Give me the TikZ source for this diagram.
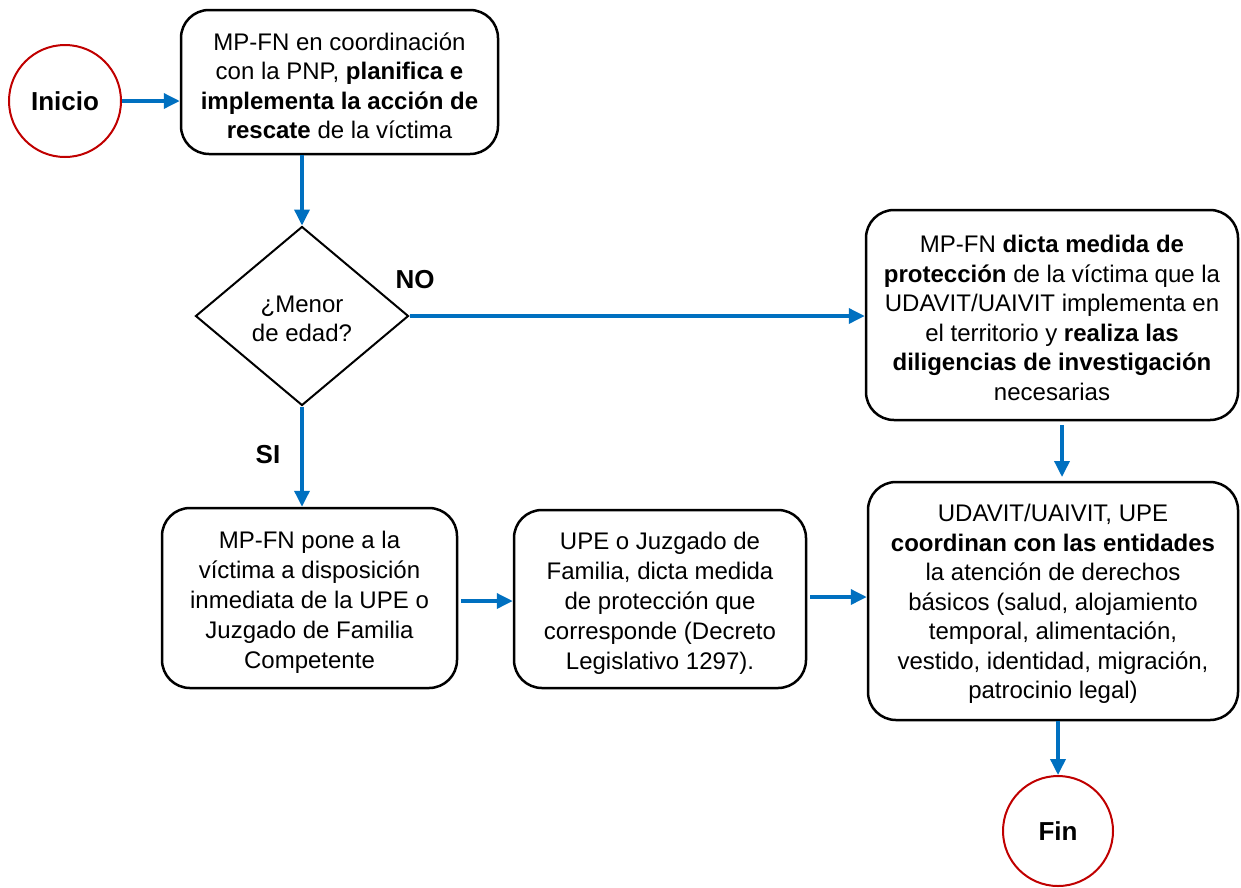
\documentclass[tikz,border=0pt]{standalone}
\usepackage{fontspec}
\setmainfont{Liberation Sans}
\usetikzlibrary{shapes.geometric,arrows.meta}
\definecolor{flowblue}{RGB}{0,112,192}
\definecolor{termred}{RGB}{192,0,0}
\tikzset{
  stepbox/.style={draw=black, line width=2.5pt, rounded corners=28pt, inner sep=0pt},
  boxtext/.style={align=center, inner sep=0pt, font=\fontsize{24}{29.5}\selectfont},
  termcirc/.style={draw=termred, line width=2pt, circle, inner sep=0pt, font=\bfseries\fontsize{26}{30}\selectfont},
  decision/.style={draw=black, line width=2pt, diamond, inner sep=0pt},
  flow/.style={draw=flowblue, line width=3.5pt, -{Triangle[length=16pt,width=15pt]}},
  lbl/.style={font=\bfseries\fontsize{26}{30}\selectfont, inner sep=0pt}
}
\begin{document}
\begin{tikzpicture}[x=1pt,y=-1pt]
\useasboundingbox (0,0) rectangle (1241,887);
\node[termcirc, minimum size=112pt] (ini) at (65,101) {Inicio};
% box 1
\node[stepbox, minimum width=317pt, minimum height=144pt] (b1) at (339.5,82) {};
\node[boxtext] (b1t) at ([yshift=-4pt]b1.center)
  {MP-FN en coordinación\\con la PNP, \textbf{planifica e}\\\textbf{implementa la acción de}\\\textbf{rescate} de la víctima};
% decision
\node[decision, minimum width=213pt, minimum height=179pt, aspect=1.19] (dia) at (302,316) {};
\node[boxtext] (diat) at ([yshift=-3pt]dia.center) {¿Menor\\de edad?};
% box 2
\node[stepbox, minimum width=372pt, minimum height=210pt] (b2) at (1052,315) {};
\node[boxtext] (b2t) at ([yshift=-3pt]b2.center)
  {MP-FN \textbf{dicta medida de}\\\textbf{protección} de la víctima que la\\UDAVIT/UAIVIT implementa en\\el territorio y \textbf{realiza las}\\\textbf{diligencias de investigación}\\necesarias};
% box 3
\node[stepbox, minimum width=295pt, minimum height=180pt] (b3) at (309.5,598) {};
\node[boxtext, font=\fontsize{24}{30}\selectfont] (b3t) at ([yshift=-4pt]b3.center)
  {MP-FN pone a la\\víctima a disposición\\inmediata de la UPE o\\Juzgado de Familia\\Competente};
% box 4
\node[stepbox, minimum width=292pt, minimum height=178pt] (b4) at (660,599) {};
\node[boxtext, font=\fontsize{24}{30}\selectfont] (b4t) at ([yshift=-4pt]b4.center)
  {UPE o Juzgado de\\Familia, dicta medida\\de protección que\\corresponde (Decreto\\Legislativo 1297).};
% box 5
\node[stepbox, minimum width=370pt, minimum height=238pt] (b5) at (1053,601) {};
\node[boxtext] (b5t) at ([yshift=-3pt]b5.center)
  {UDAVIT/UAIVIT, UPE\\\textbf{coordinan con las entidades}\\la atención de derechos\\básicos (salud, alojamiento\\temporal, alimentación,\\vestido, identidad, migración,\\patrocinio legal)};
\node[termcirc, minimum size=110pt] (fin) at (1058,831) {Fin};
\node[lbl] (no) at (415,280) {NO};
\node[lbl] (si) at (268,455) {SI};
\coordinate (c2s) at (1062,425);
\coordinate (c5n) at (1062,477);
\draw[flow] (ini.east) -- (ini.east -| b1.west);
\draw[flow] (dia.north |- b1.south) -- (dia.north);
\draw[flow] (dia.east) -- (dia.east -| b2.west);
\draw[flow] (dia.south) -- (dia.south |- b3.north);
\draw[flow, shorten <=3pt] (b3.east |- 0,601) -- (b4.west |- 0,601);
\draw[flow, shorten <=3pt] (b4.east |- 0,597) -- (b5.west |- 0,597);
\draw[flow] (c2s) -- (c5n);
\draw[flow] (fin.north |- b5.south) -- (fin.north);
\end{tikzpicture}
\end{document}
